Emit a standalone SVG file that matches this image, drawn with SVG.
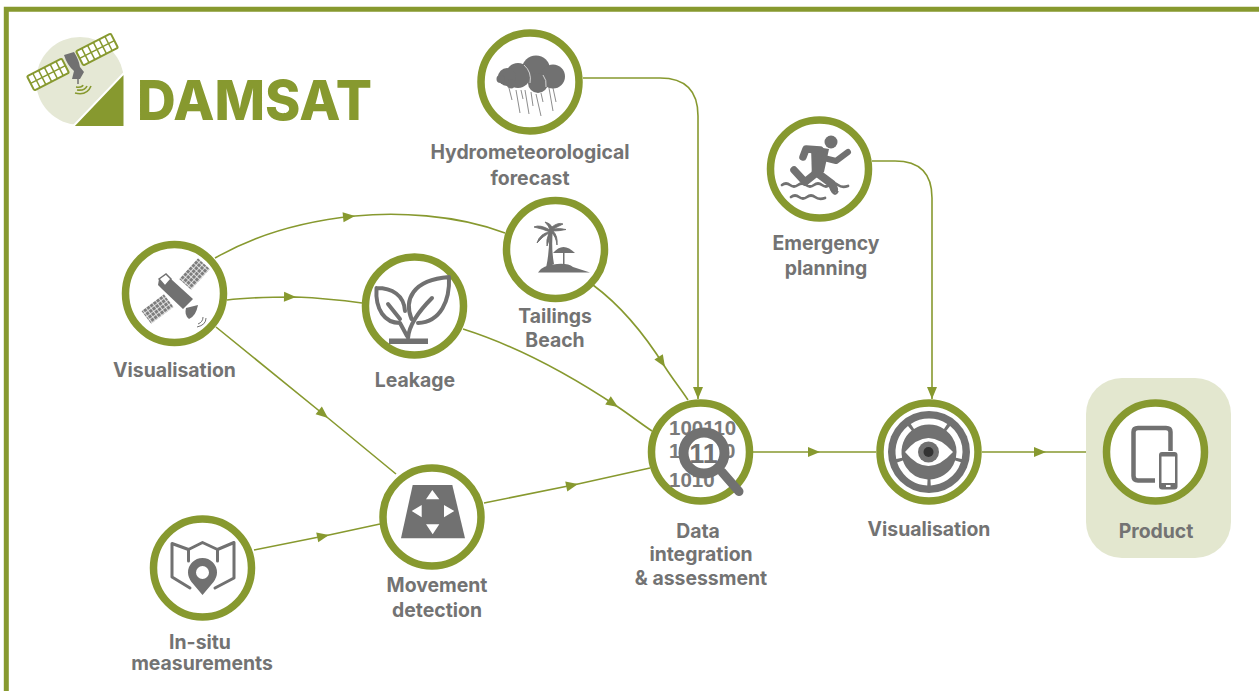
<svg xmlns="http://www.w3.org/2000/svg" width="1259" height="691" viewBox="0 0 1259 691">
<style>
.ring{fill:#fff;stroke:#87992f;stroke-width:7.5}
.lbl{font-family:"Inter","Liberation Sans",sans-serif;font-weight:700;font-size:19.4px;fill:#737373;text-anchor:middle}
.con{fill:none;stroke:#87992f;stroke-width:1.6}
.ic{fill:#717171}
.ol{fill:none;stroke:#717171;stroke-linecap:round;stroke-linejoin:round}
.bin{font-family:"Liberation Sans",sans-serif;font-weight:700;font-size:20.5px;fill:#7a7a7a}
</style>
<defs>
<marker id="arr" markerUnits="userSpaceOnUse" markerWidth="14" markerHeight="12" refX="13" refY="6" orient="auto"><path d="M1 1 L13 6 L1 11 Z" fill="#87992f"/></marker>
<pattern id="cell" patternUnits="userSpaceOnUse" width="4" height="4"><rect width="4" height="4" fill="#fff"/><rect width="3.3" height="3.3" fill="#7d7d7d"/></pattern>
</defs>
<rect width="1259" height="691" fill="#fff"/>
<path id="frame" d="M6.3 691 V9.2 H1259" fill="none" stroke="#87992f" stroke-width="5"/>
<g id="logo">
<circle cx="80" cy="81" r="44" fill="#e5e8d5"/>
<path d="M72.500 127 L124.500 72.500 V127 Z" fill="#87992f" stroke="#fff" stroke-width="2"/>
<g transform="translate(72.500 62) rotate(-27)" fill="#fff" stroke="#87992f" stroke-width="2">
<rect x="-47" y="-8" width="39" height="16" rx="1.500"/><rect x="8" y="-8" width="39" height="16" rx="1.500"/>
<path d="M-47 0 H-8 M-40.500 -8 V8 M-34 -8 V8 M-27.500 -8 V8 M-21 -8 V8 M-14.500 -8 V8 M8 0 H47 M14.500 -8 V8 M21 -8 V8 M27.500 -8 V8 M34 -8 V8 M40.500 -8 V8" fill="none" stroke-width="1.500"/>
</g>
<path d="M64 55 L74 52 Q79 60 80 67 L84 72 L80 79 H72 L74 71 Q67 65 64 55 Z" fill="#717171"/>
<path d="M78 79 V84" stroke="#717171" stroke-width="1.500"/>
<path d="M76 87 Q82 88 83 85 M77 90 Q85 91 87 86 M75 93 Q87 96 91 86" fill="none" stroke="#87992f" stroke-width="1.600"/>
<text x="137" y="120" font-family="Inter,'Liberation Sans',sans-serif" font-weight="800" font-size="55" fill="#87992f" textLength="235" lengthAdjust="spacingAndGlyphs">DAMSAT</text>
</g>
<g id="connectors">
<path class="con" marker-mid="url(#arr)" d="M215 258 C255 235 305 221 355 216 C395 212 455 214 505 233"/>
<path class="con" marker-mid="url(#arr)" d="M227 300 C250 297 275 297 296 297 C320 298 340 300 362 303"/>
<path class="con" marker-mid="url(#arr)" d="M216 327 L328 418 L396 474"/>
<path class="con" marker-mid="url(#arr)" d="M593 285 C620 305 645 335 665 367 C672 378 680 388 688 400"/>
<path class="con" marker-mid="url(#arr)" d="M463 329 C520 347 570 375 618 407 C630 415 640 423 652 431"/>
<path class="con" marker-end="url(#arr)" d="M583 78 H660 Q698 78 698 116 V399"/>
<path class="con" marker-mid="url(#arr)" d="M254 550 L329 535 L380 524"/>
<path class="con" marker-mid="url(#arr)" d="M484 503 L578 484 L650 468"/>
<path class="con" marker-mid="url(#arr)" d="M753 452 H820 L876 452"/>
<path class="con" marker-mid="url(#arr)" d="M982 452 H1046 L1103 452"/>
<path class="con" marker-end="url(#arr)" d="M872 161 H895 Q932 161 932 198 V399"/>
</g>
<g id="node-visualisation-1">
<circle class="ring" cx="174.500" cy="293.500" r="49"/>
<g transform="translate(157.500 309) rotate(-37)"><rect x="-14" y="-8" width="28" height="16" fill="url(#cell)"/></g>
<g transform="translate(194.500 274) rotate(-48)"><rect x="-14" y="-8" width="28" height="16" fill="url(#cell)"/></g>
<path class="ic" d="M159 279 L166 274 L171 279 L193 299 L183 309 L162 289 L158 285 Z"/>
<path d="M159 279 L166 274 L171 279 L165 286 Z" fill="#fff" stroke="#717171" stroke-width="1.500"/>
<path class="ic" d="M186 308 L198 305 Q196 316 189 319 Q184 315 186 308 Z"/>
<path d="M198 324 Q203 322 203 317 M197 327 Q206 325 206 318" fill="none" stroke="#717171" stroke-width="1"/>
<text class="lbl" x="174.500" y="377">Visualisation</text>
</g>
<g id="node-leakage">
<circle class="ring" cx="414.500" cy="306" r="49"/>
<rect class="ic" x="389" y="338.500" width="39" height="5.500"/>
<path class="ol" stroke-width="4" d="M411.500 319 C404 300 412 280 449 277 C450 300 441 322 418 323 M408 338 C409 325 417 313 432 298"/>
<path class="ol" stroke-width="4" d="M376.500 288 C392 288 404 295 405 311 M376.500 288 C375 310 385 323 400 323 L407 336 M388 304 L400 319"/>
<text class="lbl" x="415" y="387">Leakage</text>
</g>
<g id="node-hydro">
<circle class="ring" cx="530" cy="82" r="49"/>
<path stroke="#8d8d8d" stroke-width="1" fill="none" d="M509 88 L512 100 M516 90 L520 113 M521 90 L523 99 M525 90 L529 114 M531 92 L533 106 M536 94 L541 116 M541 93 L543 102 M549 88 L553 111 M553 88 L556 102"/>
<g class="ic"><circle cx="536" cy="69.500" r="14"/><circle cx="553" cy="76.500" r="12"/><circle cx="518" cy="75.500" r="12.500"/><circle cx="538" cy="83" r="10"/><circle cx="507" cy="77" r="9"/><circle cx="500.500" cy="79" r="4"/><circle cx="511" cy="84" r="4.500"/></g>
<path d="M524 65 Q532 72 530 83 M543 75 Q547 80 546 87" fill="none" stroke="#fff" stroke-width="0.700"/>
<text class="lbl" x="530" y="159">Hydrometeorological</text>
<text class="lbl" x="530" y="185">forecast</text>
</g>
<g id="node-tailings">
<circle class="ring" cx="555.500" cy="249.500" r="49"/>
<path class="ic" d="M549 229 L553 229 Q551 248 554 264 L546 268 Q550 250 549 229 Z"/>
<path class="ic" stroke="#717171" stroke-width="0.900" d="M550 230 Q540 224 534 227 Q543 229 550 232 Q540 233 537 243 Q543 236 549 233 Q546 240 547 246 Q550 238 551 232 Q556 236 557 245 Q558 236 553 231 Q559 231 566 229.500 Q560 228 553 229 Q559 226 563 224 Q558 222 552 227 Q550 223 545 222 Q549 226 550 230 Z"/>
<path class="ic" d="M553 253 Q563 241 575 253 Z"/>
<rect class="ic" x="563" y="252" width="1.500" height="13"/>
<path class="ic" d="M538 272.500 Q542 265 557 264 Q568 263 573 267 L590 272.500 Z"/>
<text class="lbl" x="555" y="323">Tailings</text>
<text class="lbl" x="555" y="347">Beach</text>
</g>
<g id="node-data">
<circle class="ring" cx="700.500" cy="452" r="49"/>
<text class="bin" x="669" y="435">100110</text>
<text class="bin" x="669" y="458">1</text>
<text class="bin" x="724" y="458">0</text>
<text class="bin" x="669" y="487">1010</text>
<path d="M722 472 L739 491.500" stroke="#717171" stroke-width="9" stroke-linecap="round"/>
<circle cx="704" cy="453" r="20.500" fill="#fff" stroke="#717171" stroke-width="10"/>
<text x="703.500" y="463" font-family="'Liberation Sans',sans-serif" font-weight="700" font-size="27" fill="#717171" text-anchor="middle">11</text>
<text class="lbl" x="698" y="538">Data</text>
<text class="lbl" x="701" y="561">integration</text>
<text class="lbl" x="701" y="585">&amp; assessment</text>
</g>
<g id="node-visualisation-2">
<circle class="ring" cx="929" cy="452" r="49"/>
<circle class="ic" cx="929" cy="452" r="41"/>
<circle cx="929" cy="452" r="30.500" fill="none" stroke="#fff" stroke-width="6" pathLength="360" stroke-dasharray="66 6 63 6 69 6 69 6 63 6" transform="rotate(-123 929 452)"/>
<path d="M905 452 Q928 424 953 452 Q928 480 905 452 Z" fill="#fff"/>
<circle class="ic" cx="928.500" cy="452" r="10.500"/>
<circle cx="928.500" cy="452" r="5" fill="#333"/>
<text class="lbl" x="929" y="536">Visualisation</text>
</g>
<g id="node-product">
<rect x="1086" y="378" width="145" height="180" rx="36" fill="#e3e7cf"/>
<circle class="ring" cx="1155.500" cy="452" r="49"/>
<path d="M1170.500 451 V432 Q1170.500 428 1166 428 H1138 Q1133.500 428 1133.500 432 V476 Q1133.500 480.500 1138 480.500 H1150 M1150 480.500 H1155" fill="none" stroke="#717171" stroke-width="4.500"/>
<rect class="ic" x="1159" y="452" width="18.500" height="37.500" rx="3"/>
<rect x="1161.500" y="456.500" width="13.500" height="26.500" fill="#fff"/>
<rect x="1166" y="485" width="4.500" height="2" fill="#fff"/>
<text class="lbl" x="1156" y="538">Product</text>
</g>
<g id="node-emergency">
<circle class="ring" cx="819.500" cy="169" r="49"/>
<circle class="ic" cx="831" cy="142" r="6.500"/>
<path class="ic" d="M811 146 L829 149 L824 172 L812 180 Z"/>
<path class="ol" stroke-width="7.500" d="M803 157 L806 149 L820 150 L815 174 L805 182 L794 170"/>
<path class="ol" stroke-width="8" d="M820 155 L816 172 L832 184 L834 189"/>
<path class="ol" stroke-width="6" d="M824 158 L836 161 L848 152"/>
<path class="ol" stroke-width="2.800" fill="none" d="M782 185 q4 -3 8 0 t8 0 t8 0 t8 0 t8 0 t8 0 t8 0 t10 1"/>
<path class="ol" stroke-width="2.800" fill="none" d="M791 197 q4 -3 8 0 t8 0 t8 0 t10 1"/>
<path d="M832 191 Q835 197 838 191" fill="none" stroke="#717171" stroke-width="2"/>
<text class="lbl" x="826" y="250">Emergency</text>
<text class="lbl" x="826" y="275">planning</text>
</g>
<g id="node-movement">
<circle class="ring" cx="432" cy="517" r="49"/>
<path class="ic" d="M412.700 485 H452.300 L465 538.300 H401 Z"/>
<path fill="#fff" d="M432.300 490 L439.300 499.300 H426 Z M421.700 505 V517.300 L411.700 511 Z M444 505 V517.300 L454.300 511 Z M426 524.300 H439.300 L432.700 534.300 Z"/>
<text class="lbl" x="437" y="592">Movement</text>
<text class="lbl" x="437" y="617">detection</text>
</g>
<g id="node-insitu">
<circle class="ring" cx="202.500" cy="568" r="49"/>
<path class="ol" stroke-width="3" d="M190 588 L172 577 V543.500 L188.500 549.500 L202.500 542.500 L217.500 549.500 L234 542.500 V578 L215 588 M188.500 549.500 V561 M217.500 549.500 V561"/>
<path class="ic" fill-rule="evenodd" d="M202.500 595 L191.500 582 Q188 577 188 572.500 A14.500 14.500 0 0 1 217 572.500 Q217 577 213.500 582 Z M202.500 566 A6.500 6.500 0 1 0 202.500 579 A6.500 6.500 0 1 0 202.500 566 Z"/>
<text class="lbl" x="200" y="649">In-situ</text>
<text class="lbl" x="202" y="670">measurements</text>
</g>
</svg>
